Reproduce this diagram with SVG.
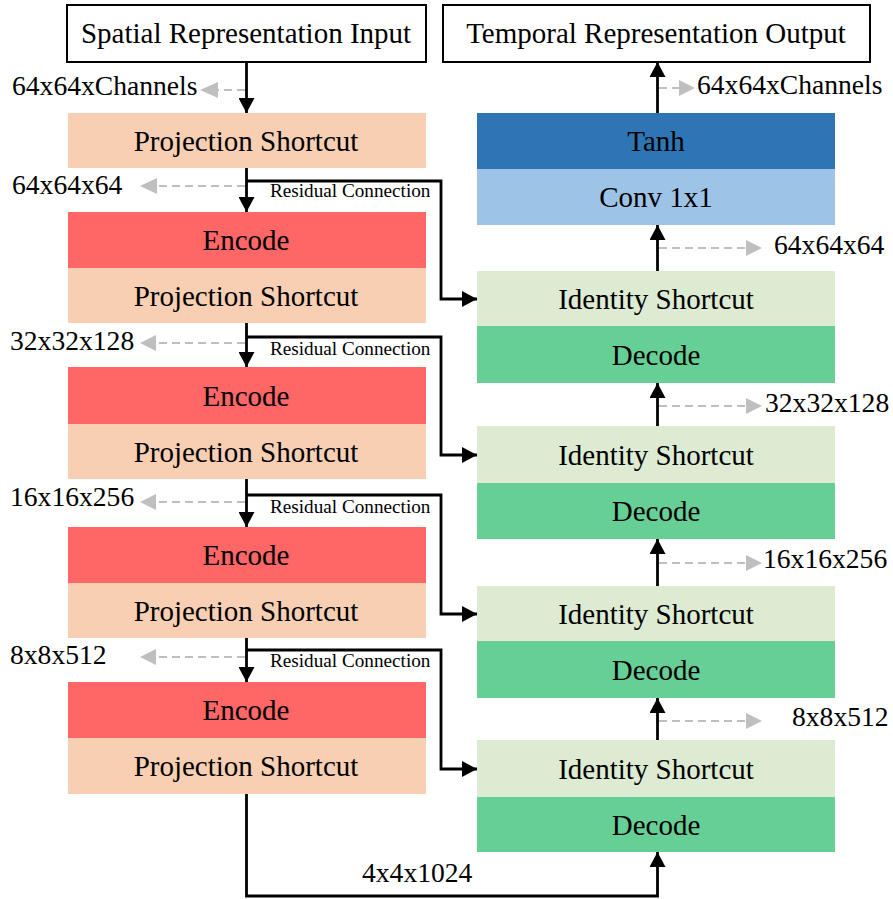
<svg xmlns="http://www.w3.org/2000/svg" width="893" height="899" viewBox="0 0 893 899">
<defs>
<style>
text{font-family:"Liberation Serif","Times New Roman",serif;fill:#000}
.t{font-size:29px;text-anchor:middle}
.lbl{font-size:27.6px}
.rc{font-size:19.2px}
.proj{fill:#F8CFB3}
.enc{fill:#FF6666}
.idn{fill:#DDEBD2}
.dec{fill:#66CF96}
.io{fill:#fff;stroke:#000;stroke-width:2}
.ln{fill:none;stroke:#000;stroke-width:2.8}
.dash{fill:none;stroke:#BFBFBF;stroke-width:2;stroke-dasharray:8 5}
.gh{fill:#BFBFBF}
</style>
<marker id="ah" markerWidth="16" markerHeight="16" refX="15" refY="8" orient="auto" markerUnits="userSpaceOnUse">
<path d="M0,0 L15,8 L0,16 Z" fill="#000"/>
</marker>
</defs>

<g id="input"><rect class="io" x="67" y="5" width="359" height="57"/><text class="t" x="246" y="43">Spatial Representation Input</text></g>
<g id="output"><rect class="io" x="443" y="5" width="427" height="57"/><text class="t" x="656" y="43">Temporal Representation Output</text></g>

<g id="proj0"><rect class="proj" x="68" y="113" width="358" height="55"/><text class="t" x="246" y="151">Projection Shortcut</text></g>
<g id="enc1"><rect class="enc" x="68" y="212" width="358" height="56"/><text class="t" x="246" y="250">Encode</text></g>
<g id="proj1"><rect class="proj" x="68" y="268" width="358" height="55"/><text class="t" x="246" y="306">Projection Shortcut</text></g>
<g id="enc2"><rect class="enc" x="68" y="367" width="358" height="57"/><text class="t" x="246" y="406">Encode</text></g>
<g id="proj2"><rect class="proj" x="68" y="424" width="358" height="55"/><text class="t" x="246" y="462">Projection Shortcut</text></g>
<g id="enc3"><rect class="enc" x="68" y="527" width="358" height="56"/><text class="t" x="246" y="565">Encode</text></g>
<g id="proj3"><rect class="proj" x="68" y="583" width="358" height="55"/><text class="t" x="246" y="621">Projection Shortcut</text></g>
<g id="enc4"><rect class="enc" x="68" y="682" width="358" height="56"/><text class="t" x="246" y="720">Encode</text></g>
<g id="proj4"><rect class="proj" x="68" y="738" width="358" height="56"/><text class="t" x="246" y="776">Projection Shortcut</text></g>

<g id="tanh"><rect fill="#2E75B6" x="477" y="113" width="358" height="56"/><text class="t" x="656" y="151">Tanh</text></g>
<g id="conv"><rect fill="#9DC3E6" x="477" y="169" width="358" height="56"/><text class="t" x="656" y="207">Conv 1x1</text></g>
<g id="id1"><rect class="idn" x="477" y="271" width="358" height="55"/><text class="t" x="656" y="309">Identity Shortcut</text></g>
<g id="dec1"><rect class="dec" x="477" y="326" width="358" height="57"/><text class="t" x="656" y="365">Decode</text></g>
<g id="id2"><rect class="idn" x="477" y="426" width="358" height="57"/><text class="t" x="656" y="465">Identity Shortcut</text></g>
<g id="dec2"><rect class="dec" x="477" y="483" width="358" height="56"/><text class="t" x="656" y="521">Decode</text></g>
<g id="id3"><rect class="idn" x="477" y="586" width="358" height="55"/><text class="t" x="656" y="624">Identity Shortcut</text></g>
<g id="dec3"><rect class="dec" x="477" y="641" width="358" height="57"/><text class="t" x="656" y="680">Decode</text></g>
<g id="id4"><rect class="idn" x="477" y="740" width="358" height="57"/><text class="t" x="656" y="779">Identity Shortcut</text></g>
<g id="dec4"><rect class="dec" x="477" y="797" width="358" height="55"/><text class="t" x="656" y="835">Decode</text></g>

<g id="connectors">
<path class="ln" d="M246.5,62 V113" marker-end="url(#ah)"/>
<path class="ln" d="M246.5,168 V212" marker-end="url(#ah)"/>
<path class="ln" d="M246.5,323 V367" marker-end="url(#ah)"/>
<path class="ln" d="M246.5,479 V527" marker-end="url(#ah)"/>
<path class="ln" d="M246.5,638 V682" marker-end="url(#ah)"/>
<path class="ln" d="M246.5,794 V896 H657.5 V852" marker-end="url(#ah)"/>
<path class="ln" d="M246.5,181 H441 V299 H477" marker-end="url(#ah)"/>
<path class="ln" d="M246.5,337 H441 V455 H477" marker-end="url(#ah)"/>
<path class="ln" d="M246.5,495 H441 V614 H477" marker-end="url(#ah)"/>
<path class="ln" d="M246.5,650 H441 V769 H477" marker-end="url(#ah)"/>
<path class="ln" d="M657.5,740 V698" marker-end="url(#ah)"/>
<path class="ln" d="M657.5,586 V539" marker-end="url(#ah)"/>
<path class="ln" d="M657.5,426 V383" marker-end="url(#ah)"/>
<path class="ln" d="M657.5,271 V225" marker-end="url(#ah)"/>
<path class="ln" d="M657.5,113 V62" marker-end="url(#ah)"/>
<path class="dash" d="M245,90 H218"/><path class="gh" d="M218,82 L200,90 L218,98 Z"/>
<path class="dash" d="M245,186 H157"/><path class="gh" d="M157,178 L140,186 L157,194 Z"/>
<path class="dash" d="M245,343 H156"/><path class="gh" d="M156,335 L140,343 L156,351 Z"/>
<path class="dash" d="M245,502 H156"/><path class="gh" d="M156,494 L140,502 L156,510 Z"/>
<path class="dash" d="M245,657 H156"/><path class="gh" d="M156,649 L140,657 L156,665 Z"/>
<path class="dash" d="M659,88 H679"/><path class="gh" d="M679,80 L695,88 L679,96 Z"/>
<path class="dash" d="M659,248 H746"/><path class="gh" d="M746,240 L762,248 L746,256 Z"/>
<path class="dash" d="M659,406 H746"/><path class="gh" d="M746,398 L762,406 L746,414 Z"/>
<path class="dash" d="M659,563 H746"/><path class="gh" d="M746,555 L762,563 L746,571 Z"/>
<path class="dash" d="M659,721 H746"/><path class="gh" d="M746,713 L762,721 L746,729 Z"/>
</g>

<g id="labels">
<text class="lbl" x="12" y="95">64x64xChannels</text>
<text class="lbl" x="12" y="194">64x64x64</text>
<text class="lbl" x="10" y="350">32x32x128</text>
<text class="lbl" x="10" y="506">16x16x256</text>
<text class="lbl" x="10" y="664">8x8x512</text>
<text class="lbl" x="697" y="94">64x64xChannels</text>
<text class="lbl" x="774" y="254">64x64x64</text>
<text class="lbl" x="765" y="412">32x32x128</text>
<text class="lbl" x="763" y="568">16x16x256</text>
<text class="lbl" x="792" y="726">8x8x512</text>
<text class="lbl" x="362" y="882">4x4x1024</text>
<text class="rc" x="270" y="197">Residual Connection</text>
<text class="rc" x="270" y="355">Residual Connection</text>
<text class="rc" x="270" y="513">Residual Connection</text>
<text class="rc" x="270" y="667">Residual Connection</text>
</g>
</svg>
